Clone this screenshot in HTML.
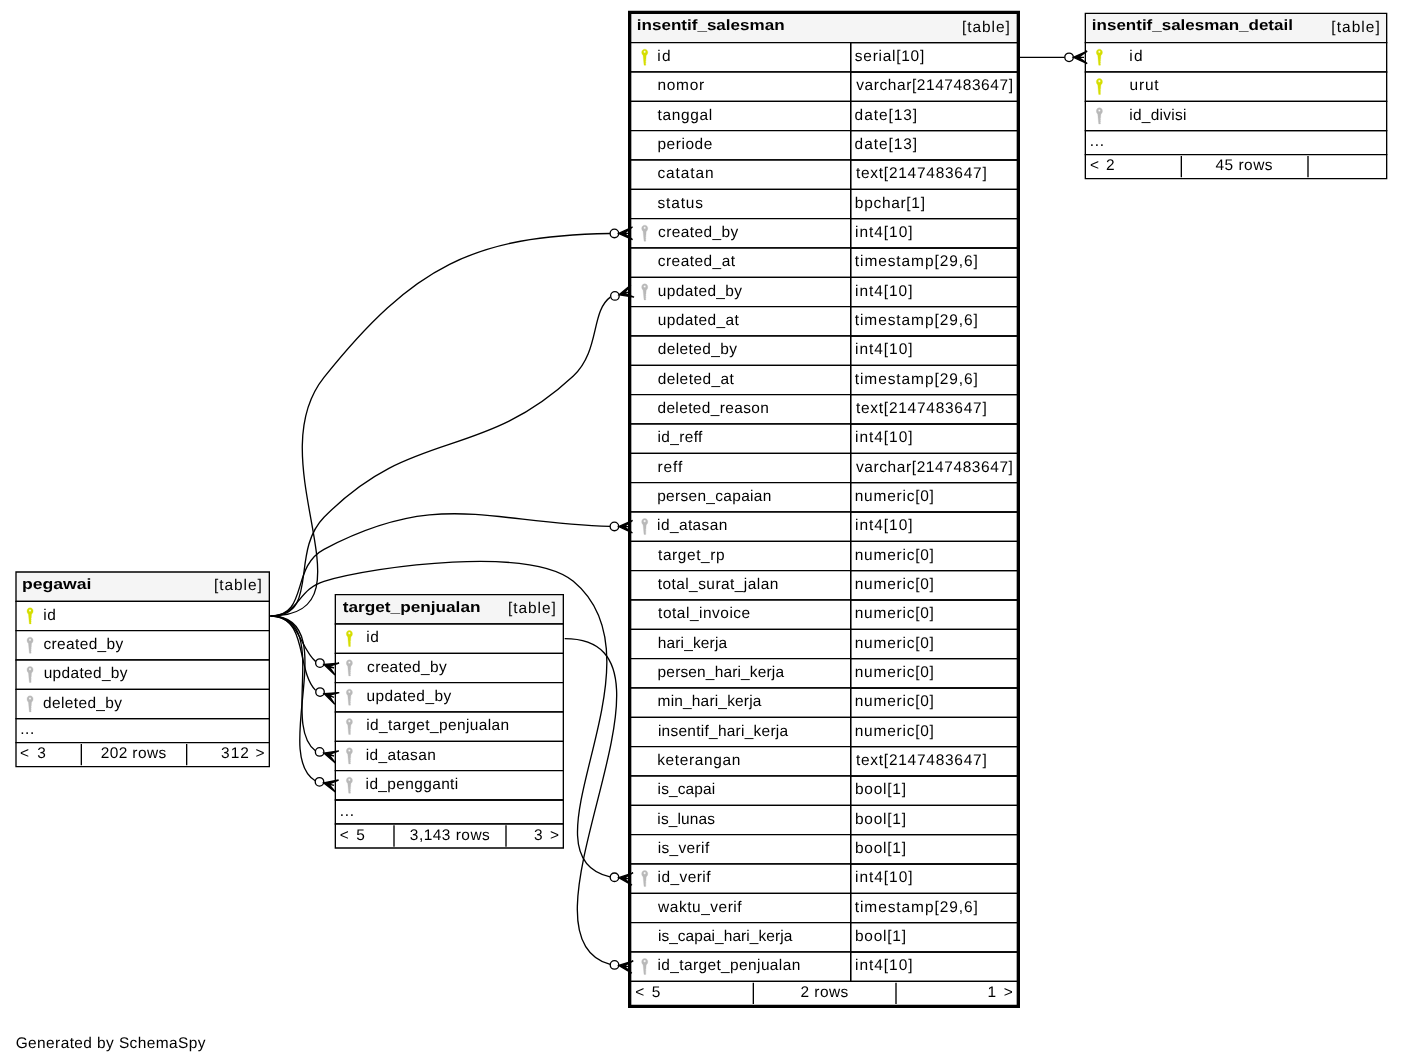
<!DOCTYPE html>
<html><head><meta charset="utf-8"><title>insentif_salesman</title>
<style>
html,body{margin:0;padding:0;background:#fff}
body{width:1403px;height:1063px;overflow:hidden}
svg{display:block;will-change:transform}
text{font-family:"Liberation Sans",sans-serif;font-size:11.6px;fill:#000;stroke:none;white-space:pre}
text.b{font-weight:bold;font-size:11.2px}
polygon,path,ellipse{fill:none;stroke:#000}
.h{fill:#f5f5f5;stroke:none}
.w{fill:#fff;stroke:none}
.a{fill:#000}
.pk{fill:#d5de00;stroke:#d5de00}
#k path{fill:inherit;stroke:inherit;stroke-width:.3;stroke-linejoin:round}
.fk{fill:#b9b9b9;stroke:#b9b9b9}
</style></head><body>
<svg width="1403" height="1063" viewBox="0 0 1052.25 797.25" text-rendering="geometricPrecision">
<defs><g id="k" transform="scale(.75)"><path fill-rule="evenodd" d="M7.4,-0.15 C9.3,-0.15 10.45,1.2 10.45,3 C10.45,4.4 9.9,5.3 9,6 L8.8,6.9 L8.6,10.2 L8.2,10.6 L8.55,11 L8.5,12 L8.15,12.4 L8.5,12.8 L8.45,13.9 L8.1,14.3 L8.45,14.7 L8.4,15.9 L6.75,15.9 L6.55,14.5 L5.85,6.9 L5.7,6 C4.9,5.3 4.35,4.4 4.35,3 C4.35,1.2 5.5,-0.15 7.4,-0.15 Z M7.35,1.45 C6.75,1.45 6.3,1.9 6.3,2.5 C6.3,3.1 6.75,3.55 7.35,3.55 C7.95,3.55 8.4,3.1 8.4,2.5 C8.4,1.9 7.95,1.45 7.35,1.45 Z"/></g></defs>
<g transform="translate(4 793)">
<text x="7.73" y="-7.2" lengthAdjust="spacing" textLength="142.37">Generated by SchemaSpy</text>
<polygon points="469,-761 469,-783 759,-783 759,-761 469,-761" class="h"/>
<polygon points="469,-761 469,-783 759,-783 759,-761 469,-761"/>
<text class="b" x="473.67" y="-770.2" lengthAdjust="spacingAndGlyphs" textLength="110.77">insentif_salesman</text>
<text x="717.44" y="-769.2" lengthAdjust="spacing" textLength="35.93">[table]</text>
<polygon points="469,-739 469,-761 634,-761 634,-739 469,-739" class="w"/>
<polygon points="469,-739 469,-761 634,-761 634,-739 469,-739"/>
<use href="#k" class="pk" x="474" y="-756"/>
<text x="488.95" y="-747.2" lengthAdjust="spacing" textLength="9.92">id</text>
<polygon points="634,-739 634,-761 759,-761 759,-739 634,-739"/>
<text x="637.15" y="-747.2" lengthAdjust="spacing" textLength="52.03">serial[10]</text>
<polygon points="469,-717 469,-739 634,-739 634,-717 469,-717" class="w"/>
<polygon points="469,-717 469,-739 634,-739 634,-717 469,-717"/>
<text x="489.11" y="-725.2" lengthAdjust="spacing" textLength="34.98">nomor</text>
<polygon points="634,-717 634,-739 759,-739 759,-717 634,-717"/>
<text x="638.16" y="-725.2" lengthAdjust="spacing" textLength="117.55">varchar[2147483647]</text>
<polygon points="469,-695 469,-717 634,-717 634,-695 469,-695" class="w"/>
<polygon points="469,-695 469,-717 634,-717 634,-695 469,-695"/>
<text x="489.17" y="-703.2" lengthAdjust="spacing" textLength="40.99">tanggal</text>
<polygon points="634,-695 634,-717 759,-717 759,-695 634,-695"/>
<text x="636.96" y="-703.2" lengthAdjust="spacing" textLength="46.91">date[13]</text>
<polygon points="469,-673 469,-695 634,-695 634,-673 469,-673" class="w"/>
<polygon points="469,-673 469,-695 634,-695 634,-673 469,-673"/>
<text x="489.1" y="-681.2" lengthAdjust="spacing" textLength="41.17">periode</text>
<polygon points="634,-673 634,-695 759,-695 759,-673 634,-673"/>
<text x="636.96" y="-681.2" lengthAdjust="spacing" textLength="46.92">date[13]</text>
<polygon points="469,-651 469,-673 634,-673 634,-651 469,-651" class="w"/>
<polygon points="469,-651 469,-673 634,-673 634,-651 469,-651"/>
<text x="489.1" y="-659.2" lengthAdjust="spacing" textLength="42.08">catatan</text>
<polygon points="634,-651 634,-673 759,-673 759,-651 634,-651"/>
<text x="637.92" y="-659.2" lengthAdjust="spacing" textLength="98.13">text[2147483647]</text>
<polygon points="469,-629 469,-651 634,-651 634,-629 469,-629" class="w"/>
<polygon points="469,-629 469,-651 634,-651 634,-629 469,-629"/>
<text x="489.18" y="-637.2" lengthAdjust="spacing" textLength="34.01">status</text>
<polygon points="634,-629 634,-651 759,-651 759,-629 634,-629"/>
<text x="637.14" y="-637.2" lengthAdjust="spacing" textLength="52.6">bpchar[1]</text>
<polygon points="469,-607 469,-629 634,-629 634,-607 469,-607" class="w"/>
<polygon points="469,-607 469,-629 634,-629 634,-607 469,-607"/>
<use href="#k" class="fk" x="474" y="-624"/>
<text x="489.53" y="-615.2" lengthAdjust="spacing" textLength="60.2">created_by</text>
<polygon points="634,-607 634,-629 759,-629 759,-607 634,-607"/>
<text x="637.25" y="-615.2" lengthAdjust="spacing" textLength="43.14">int4[10]</text>
<polygon points="469,-585 469,-607 634,-607 634,-585 469,-585" class="w"/>
<polygon points="469,-585 469,-607 634,-607 634,-585 469,-585"/>
<text x="489.36" y="-593.2" lengthAdjust="spacing" textLength="57.89">created_at</text>
<polygon points="634,-585 634,-607 759,-607 759,-585 634,-585"/>
<text x="637.1" y="-593.2" lengthAdjust="spacing" textLength="92.24">timestamp[29,6]</text>
<polygon points="469,-563 469,-585 634,-585 634,-563 469,-563" class="w"/>
<polygon points="469,-563 469,-585 634,-585 634,-563 469,-563"/>
<use href="#k" class="fk" x="474" y="-580"/>
<text x="489.29" y="-571.2" lengthAdjust="spacing" textLength="63.27">updated_by</text>
<polygon points="634,-563 634,-585 759,-585 759,-563 634,-563"/>
<text x="637.25" y="-571.2" lengthAdjust="spacing" textLength="43.1">int4[10]</text>
<polygon points="469,-541 469,-563 634,-563 634,-541 469,-541" class="w"/>
<polygon points="469,-541 469,-563 634,-563 634,-541 469,-541"/>
<text x="489.29" y="-549.2" lengthAdjust="spacing" textLength="60.85">updated_at</text>
<polygon points="634,-541 634,-563 759,-563 759,-541 634,-541"/>
<text x="637.09" y="-549.2" lengthAdjust="spacing" textLength="92.26">timestamp[29,6]</text>
<polygon points="469,-519 469,-541 634,-541 634,-519 469,-519" class="w"/>
<polygon points="469,-519 469,-541 634,-541 634,-519 469,-519"/>
<text x="489.28" y="-527.2" lengthAdjust="spacing" textLength="59.51">deleted_by</text>
<polygon points="634,-519 634,-541 759,-541 759,-519 634,-519"/>
<text x="637.26" y="-527.2" lengthAdjust="spacing" textLength="43.12">int4[10]</text>
<polygon points="469,-497 469,-519 634,-519 634,-497 469,-497" class="w"/>
<polygon points="469,-497 469,-519 634,-519 634,-497 469,-497"/>
<text x="489.25" y="-505.2" lengthAdjust="spacing" textLength="57.14">deleted_at</text>
<polygon points="634,-497 634,-519 759,-519 759,-497 634,-497"/>
<text x="637.09" y="-505.2" lengthAdjust="spacing" textLength="92.23">timestamp[29,6]</text>
<polygon points="469,-475 469,-497 634,-497 634,-475 469,-475" class="w"/>
<polygon points="469,-475 469,-497 634,-497 634,-475 469,-475"/>
<text x="489.06" y="-483.2" lengthAdjust="spacing" textLength="83.64">deleted_reason</text>
<polygon points="634,-475 634,-497 759,-497 759,-475 634,-475"/>
<text x="637.92" y="-483.2" lengthAdjust="spacing" textLength="98.12">text[2147483647]</text>
<polygon points="469,-453 469,-475 634,-475 634,-453 469,-453" class="w"/>
<polygon points="469,-453 469,-475 634,-475 634,-453 469,-453"/>
<text x="489.18" y="-461.2" lengthAdjust="spacing" textLength="33.62">id_reff</text>
<polygon points="634,-453 634,-475 759,-475 759,-453 634,-453"/>
<text x="637.26" y="-461.2" lengthAdjust="spacing" textLength="43.12">int4[10]</text>
<polygon points="469,-431 469,-453 634,-453 634,-431 469,-431" class="w"/>
<polygon points="469,-431 469,-453 634,-453 634,-431 469,-431"/>
<text x="489.1" y="-439.2" lengthAdjust="spacing" textLength="18.7">reff</text>
<polygon points="634,-431 634,-453 759,-453 759,-431 634,-431"/>
<text x="638.01" y="-439.2" lengthAdjust="spacing" textLength="117.69">varchar[2147483647]</text>
<polygon points="469,-409 469,-431 634,-431 634,-409 469,-409" class="w"/>
<polygon points="469,-409 469,-431 634,-431 634,-409 469,-409"/>
<text x="488.91" y="-417.2" lengthAdjust="spacing" textLength="85.57">persen_capaian</text>
<polygon points="634,-409 634,-431 759,-431 759,-409 634,-409"/>
<text x="637.06" y="-417.2" lengthAdjust="spacing" textLength="59.38">numeric[0]</text>
<polygon points="469,-387 469,-409 634,-409 634,-387 469,-387" class="w"/>
<polygon points="469,-387 469,-409 634,-409 634,-387 469,-387"/>
<use href="#k" class="fk" x="474" y="-404"/>
<text x="488.79" y="-395.2" lengthAdjust="spacing" textLength="52.69">id_atasan</text>
<polygon points="634,-387 634,-409 759,-409 759,-387 634,-387"/>
<text x="637.26" y="-395.2" lengthAdjust="spacing" textLength="43.12">int4[10]</text>
<polygon points="469,-365 469,-387 634,-387 634,-365 469,-365" class="w"/>
<polygon points="469,-365 469,-387 634,-387 634,-365 469,-365"/>
<text x="489.54" y="-373.2" lengthAdjust="spacing" textLength="49.94">target_rp</text>
<polygon points="634,-365 634,-387 759,-387 759,-365 634,-365"/>
<text x="637.06" y="-373.2" lengthAdjust="spacing" textLength="59.39">numeric[0]</text>
<polygon points="469,-343 469,-365 634,-365 634,-343 469,-343" class="w"/>
<polygon points="469,-343 469,-365 634,-365 634,-343 469,-343"/>
<text x="489.22" y="-351.2" lengthAdjust="spacing" textLength="90.5">total_surat_jalan</text>
<polygon points="634,-343 634,-365 759,-365 759,-343 634,-343"/>
<text x="637.06" y="-351.2" lengthAdjust="spacing" textLength="59.38">numeric[0]</text>
<polygon points="469,-321 469,-343 634,-343 634,-321 469,-321" class="w"/>
<polygon points="469,-321 469,-343 634,-343 634,-321 469,-321"/>
<text x="489.55" y="-329.2" lengthAdjust="spacing" textLength="69.11">total_invoice</text>
<polygon points="634,-321 634,-343 759,-343 759,-321 634,-321"/>
<text x="637.06" y="-329.2" lengthAdjust="spacing" textLength="59.39">numeric[0]</text>
<polygon points="469,-299 469,-321 634,-321 634,-299 469,-299" class="w"/>
<polygon points="469,-299 469,-321 634,-321 634,-299 469,-299"/>
<text x="489.24" y="-307.2" lengthAdjust="spacing" textLength="52.09">hari_kerja</text>
<polygon points="634,-299 634,-321 759,-321 759,-299 634,-299"/>
<text x="637.06" y="-307.2" lengthAdjust="spacing" textLength="59.39">numeric[0]</text>
<polygon points="469,-277 469,-299 634,-299 634,-277 469,-277" class="w"/>
<polygon points="469,-277 469,-299 634,-299 634,-277 469,-277"/>
<text x="489.21" y="-285.2" lengthAdjust="spacing" textLength="94.79">persen_hari_kerja</text>
<polygon points="634,-277 634,-299 759,-299 759,-277 634,-277"/>
<text x="637.06" y="-285.2" lengthAdjust="spacing" textLength="59.38">numeric[0]</text>
<polygon points="469,-255 469,-277 634,-277 634,-255 469,-255" class="w"/>
<polygon points="469,-255 469,-277 634,-277 634,-255 469,-255"/>
<text x="489.17" y="-263.2" lengthAdjust="spacing" textLength="77.88">min_hari_kerja</text>
<polygon points="634,-255 634,-277 759,-277 759,-255 634,-255"/>
<text x="637.06" y="-263.2" lengthAdjust="spacing" textLength="59.39">numeric[0]</text>
<polygon points="469,-233 469,-255 634,-255 634,-233 469,-233" class="w"/>
<polygon points="469,-233 469,-255 634,-255 634,-233 469,-233"/>
<text x="489.44" y="-241.2" lengthAdjust="spacing" textLength="97.69">insentif_hari_kerja</text>
<polygon points="634,-233 634,-255 759,-255 759,-233 634,-233"/>
<text x="637.06" y="-241.2" lengthAdjust="spacing" textLength="59.39">numeric[0]</text>
<polygon points="469,-211 469,-233 634,-233 634,-211 469,-211" class="w"/>
<polygon points="469,-211 469,-233 634,-233 634,-211 469,-211"/>
<text x="488.85" y="-219.2" lengthAdjust="spacing" textLength="62.47">keterangan</text>
<polygon points="634,-211 634,-233 759,-233 759,-211 634,-211"/>
<text x="637.92" y="-219.2" lengthAdjust="spacing" textLength="98.12">text[2147483647]</text>
<polygon points="469,-189 469,-211 634,-211 634,-189 469,-189" class="w"/>
<polygon points="469,-189 469,-211 634,-211 634,-189 469,-189"/>
<text x="489.18" y="-197.2" lengthAdjust="spacing" textLength="43.27">is_capai</text>
<polygon points="634,-189 634,-211 759,-211 759,-189 634,-189"/>
<text x="637.2" y="-197.2" lengthAdjust="spacing" textLength="38.33">bool[1]</text>
<polygon points="469,-167 469,-189 634,-189 634,-167 469,-167" class="w"/>
<polygon points="469,-167 469,-189 634,-189 634,-167 469,-167"/>
<text x="489.01" y="-175.2" lengthAdjust="spacing" textLength="43.2">is_lunas</text>
<polygon points="634,-167 634,-189 759,-189 759,-167 634,-167"/>
<text x="637.2" y="-175.2" lengthAdjust="spacing" textLength="38.32">bool[1]</text>
<polygon points="469,-145 469,-167 634,-167 634,-145 469,-145" class="w"/>
<polygon points="469,-145 469,-167 634,-167 634,-145 469,-145"/>
<text x="489.24" y="-153.2" lengthAdjust="spacing" textLength="38.66">is_verif</text>
<polygon points="634,-145 634,-167 759,-167 759,-145 634,-145"/>
<text x="637.18" y="-153.2" lengthAdjust="spacing" textLength="38.32">bool[1]</text>
<polygon points="469,-123 469,-145 634,-145 634,-123 469,-123" class="w"/>
<polygon points="469,-123 469,-145 634,-145 634,-123 469,-123"/>
<use href="#k" class="fk" x="474" y="-140"/>
<text x="489.19" y="-131.2" lengthAdjust="spacing" textLength="39.68">id_verif</text>
<polygon points="634,-123 634,-145 759,-145 759,-123 634,-123"/>
<text x="637.26" y="-131.2" lengthAdjust="spacing" textLength="43.12">int4[10]</text>
<polygon points="469,-101 469,-123 634,-123 634,-101 469,-101" class="w"/>
<polygon points="469,-101 469,-123 634,-123 634,-101 469,-101"/>
<text x="489.53" y="-109.2" lengthAdjust="spacing" textLength="62.71">waktu_verif</text>
<polygon points="634,-101 634,-123 759,-123 759,-101 634,-101"/>
<text x="637.09" y="-109.2" lengthAdjust="spacing" textLength="92.23">timestamp[29,6]</text>
<polygon points="469,-79 469,-101 634,-101 634,-79 469,-79" class="w"/>
<polygon points="469,-79 469,-101 634,-101 634,-79 469,-79"/>
<text x="489.41" y="-87.2" lengthAdjust="spacing" textLength="100.81">is_capai_hari_kerja</text>
<polygon points="634,-79 634,-101 759,-101 759,-79 634,-79"/>
<text x="637.18" y="-87.2" lengthAdjust="spacing" textLength="38.32">bool[1]</text>
<polygon points="469,-57 469,-79 634,-79 634,-57 469,-57" class="w"/>
<polygon points="469,-57 469,-79 634,-79 634,-57 469,-57"/>
<use href="#k" class="fk" x="474" y="-74"/>
<text x="489.08" y="-65.2" lengthAdjust="spacing" textLength="107.11">id_target_penjualan</text>
<polygon points="634,-57 634,-79 759,-79 759,-57 634,-57"/>
<text x="637.26" y="-65.2" lengthAdjust="spacing" textLength="43.12">int4[10]</text>
<polygon points="469,-39 469,-57 759,-57 759,-39 469,-39" class="w"/>
<polygon points="469,-39 469,-57 759,-57 759,-39 469,-39"/>
<text x="472.42" y="-45.2" lengthAdjust="spacing" textLength="18.86">&lt; 5</text>
<text x="596.45" y="-45.2" lengthAdjust="spacing" textLength="35.73">2 rows</text>
<text x="736.6" y="-45.2" lengthAdjust="spacing" textLength="19.03">1 &gt;</text>
<polygon points="561,-40 561,-56 561,-56 561,-40 561,-40" class="a"/>
<polygon points="668,-40 668,-56 668,-56 668,-40 668,-40" class="a"/>
<polygon points="468,-38 468,-784 760,-784 760,-38 468,-38" stroke-width="2"/>
<polygon points="8,-218 8,-364 198,-364 198,-218 8,-218" class="w"/>
<polygon points="8,-342 8,-364 198,-364 198,-342 8,-342" class="h"/>
<polygon points="8,-342 8,-364 198,-364 198,-342 8,-342"/>
<text class="b" x="12.48" y="-351.2" lengthAdjust="spacingAndGlyphs" textLength="52.09">pegawai</text>
<text x="156.43" y="-350.2" lengthAdjust="spacing" textLength="35.97">[table]</text>
<polygon points="8,-320 8,-342 198,-342 198,-320 8,-320" class="w"/>
<polygon points="8,-320 8,-342 198,-342 198,-320 8,-320"/>
<use href="#k" class="pk" x="13" y="-337"/>
<text x="28.45" y="-328.2" lengthAdjust="spacing" textLength="9.48">id</text>
<polygon points="8,-298 8,-320 198,-320 198,-298 8,-298" class="w"/>
<polygon points="8,-298 8,-320 198,-320 198,-298 8,-298"/>
<use href="#k" class="fk" x="13" y="-315"/>
<text x="28.58" y="-306.2" lengthAdjust="spacing" textLength="59.89">created_by</text>
<polygon points="8,-276 8,-298 198,-298 198,-276 8,-276" class="w"/>
<polygon points="8,-276 8,-298 198,-298 198,-276 8,-276"/>
<use href="#k" class="fk" x="13" y="-293"/>
<text x="28.73" y="-284.2" lengthAdjust="spacing" textLength="62.91">updated_by</text>
<polygon points="8,-254 8,-276 198,-276 198,-254 8,-254" class="w"/>
<polygon points="8,-254 8,-276 198,-276 198,-254 8,-254"/>
<use href="#k" class="fk" x="13" y="-271"/>
<text x="28.33" y="-262.2" lengthAdjust="spacing" textLength="59.18">deleted_by</text>
<polygon points="8,-236 8,-254 198,-254 198,-236 8,-236"/>
<text x="11.12" y="-242.2" lengthAdjust="spacing" textLength="10.62">...</text>
<polygon points="8,-218 8,-236 198,-236 198,-218 8,-218" class="w"/>
<polygon points="8,-218 8,-236 198,-236 198,-218 8,-218"/>
<text x="11.06" y="-224.2" lengthAdjust="spacing" textLength="19.3">&lt; 3</text>
<text x="71.49" y="-224.2" lengthAdjust="spacing" textLength="49.15">202 rows</text>
<text x="161.78" y="-224.2" lengthAdjust="spacing" textLength="32.54">312 &gt;</text>
<polygon points="57,-219 57,-235 57,-235 57,-219 57,-219" class="a"/>
<polygon points="136,-219 136,-235 136,-235 136,-219 136,-219" class="a"/>
<path d="M453.54,-617.88C351.37,-616.1 306.23,-593.99 239,-510 188.06,-446.36 280.52,-331 199,-331"/>
<polygon points="460,-617.93 470.36,-622.7 464,-617.97 468,-618 468,-618 468,-618 464,-617.97 470.44,-613.34 460,-617.93 460,-617.93" class="a"/>
<ellipse cx="456.8" cy="-617.91" rx="3.2" ry="3.2"/>
<path d="M453.5,-398.21C362.23,-400.8 324.88,-426.26 239,-381 213.82,-367.73 227.46,-331 199,-331"/>
<polygon points="460,-398.11 470.46,-402.65 464,-398.06 468,-398 468,-398 468,-398 464,-398.06 470.33,-393.29 460,-398.11 460,-398.11" class="a"/>
<ellipse cx="456.8" cy="-398.16" rx="3.2" ry="3.2"/>
<path d="M453.51,-135.38C381.43,-151.07 499.39,-296.14 426,-357 394.01,-383.53 278.84,-368.81 239,-357 218.67,-350.97 220.2,-331 199,-331"/>
<polygon points="460.04,-134.76 470.83,-138.43 464.02,-134.38 468,-134 468,-134 468,-134 464.02,-134.38 469.95,-129.12 460.04,-134.76 460.04,-134.76" class="a"/>
<ellipse cx="456.85" cy="-135.06" rx="3.2" ry="3.2"/>
<path d="M453.74,-570.15C439.02,-559.57 446.02,-529.62 426,-511 356.05,-445.93 305.87,-473.23 239,-405 212.83,-378.3 236.39,-331 199,-331"/>
<polygon points="460.28,-571.91 469.09,-579.15 464.14,-572.96 468,-574 468,-574 468,-574 464.14,-572.96 471.54,-570.1 460.28,-571.91 460.28,-571.91" class="a"/>
<ellipse cx="457.19" cy="-571.08" rx="3.2" ry="3.2"/>
<polygon points="247,-157 247,-347 418,-347 418,-157 247,-157" class="w"/>
<polygon points="247.5,-325 247.5,-347 418.5,-347 418.5,-325 247.5,-325" class="h"/>
<polygon points="247.5,-325 247.5,-347 418.5,-347 418.5,-325 247.5,-325"/>
<text class="b" x="253.09" y="-334.2" lengthAdjust="spacingAndGlyphs" textLength="103.28">target_penjualan</text>
<text x="376.94" y="-333.2" lengthAdjust="spacing" textLength="35.92">[table]</text>
<polygon points="247.5,-303 247.5,-325 418.5,-325 418.5,-303 247.5,-303" class="w"/>
<polygon points="247.5,-303 247.5,-325 418.5,-325 418.5,-303 247.5,-303"/>
<use href="#k" class="pk" x="252.5" y="-320"/>
<text x="270.6" y="-311.2" lengthAdjust="spacing" textLength="9.62">id</text>
<polygon points="247.5,-281 247.5,-303 418.5,-303 418.5,-281 247.5,-281" class="w"/>
<polygon points="247.5,-281 247.5,-303 418.5,-303 418.5,-281 247.5,-281"/>
<use href="#k" class="fk" x="252.5" y="-298"/>
<text x="271.34" y="-289.2" lengthAdjust="spacing" textLength="59.62">created_by</text>
<polygon points="247.5,-259 247.5,-281 418.5,-281 418.5,-259 247.5,-259" class="w"/>
<polygon points="247.5,-259 247.5,-281 418.5,-281 418.5,-259 247.5,-259"/>
<use href="#k" class="fk" x="252.5" y="-276"/>
<text x="270.83" y="-267.2" lengthAdjust="spacing" textLength="63.57">updated_by</text>
<polygon points="247.5,-237 247.5,-259 418.5,-259 418.5,-237 247.5,-237" class="w"/>
<polygon points="247.5,-237 247.5,-259 418.5,-259 418.5,-237 247.5,-237"/>
<use href="#k" class="fk" x="252.5" y="-254"/>
<text x="270.6" y="-245.2" lengthAdjust="spacing" textLength="107.32">id_target_penjualan</text>
<polygon points="247.5,-215 247.5,-237 418.5,-237 418.5,-215 247.5,-215" class="w"/>
<polygon points="247.5,-215 247.5,-237 418.5,-237 418.5,-215 247.5,-215"/>
<use href="#k" class="fk" x="252.5" y="-232"/>
<text x="270.23" y="-223.2" lengthAdjust="spacing" textLength="52.62">id_atasan</text>
<polygon points="247.5,-193 247.5,-215 418.5,-215 418.5,-193 247.5,-193" class="w"/>
<polygon points="247.5,-193 247.5,-215 418.5,-215 418.5,-193 247.5,-193"/>
<use href="#k" class="fk" x="252.5" y="-210"/>
<text x="270.19" y="-201.2" lengthAdjust="spacing" textLength="69.48">id_pengganti</text>
<polygon points="247.5,-175 247.5,-193 418.5,-193 418.5,-175 247.5,-175"/>
<text x="250.81" y="-181.2" lengthAdjust="spacing" textLength="10.7">...</text>
<polygon points="247.5,-157 247.5,-175 418.5,-175 418.5,-157 247.5,-157" class="w"/>
<polygon points="247.5,-157 247.5,-175 418.5,-175 418.5,-157 247.5,-157"/>
<text x="250.78" y="-163.2" lengthAdjust="spacing" textLength="18.86">&lt; 5</text>
<text x="303.4" y="-163.2" lengthAdjust="spacing" textLength="59.95">3,143 rows</text>
<text x="396.57" y="-163.2" lengthAdjust="spacing" textLength="18.73">3 &gt;</text>
<polygon points="291.5,-158 291.5,-174 291.5,-174 291.5,-158 291.5,-158" class="a"/>
<polygon points="375.5,-158 375.5,-174 375.5,-174 375.5,-158 375.5,-158" class="a"/>
<path d="M453.65,-69.7C372.91,-91.44 525.5,-314 419.5,-314"/>
<polygon points="460.06,-68.94 470.93,-72.36 464.03,-68.47 468,-68 468,-68 468,-68 464.03,-68.47 469.84,-63.08 460.06,-68.94 460.06,-68.94" class="a"/>
<ellipse cx="456.88" cy="-69.32" rx="3.2" ry="3.2"/>
<path d="M232.8,-296.78C220.66,-307.2 220.34,-331 199,-331"/>
<polygon points="238.95,-294.64 250.31,-295.63 242.72,-293.32 246.5,-292 246.5,-292 246.5,-292 242.72,-293.32 247.22,-286.79 238.95,-294.64 238.95,-294.64" class="a"/>
<ellipse cx="235.93" cy="-295.69" rx="3.2" ry="3.2"/>
<path d="M232.53,-229.99C206.7,-249.17 244.22,-331 199,-331"/>
<polygon points="238.81,-228.2 250.09,-229.84 242.65,-227.1 246.5,-226 246.5,-226 246.5,-226 242.65,-227.1 247.52,-220.84 238.81,-228.2 238.81,-228.2" class="a"/>
<ellipse cx="235.73" cy="-229.07" rx="3.2" ry="3.2"/>
<path d="M232.41,-207.4C199.23,-227.59 253.38,-331 199,-331"/>
<polygon points="238.72,-205.88 249.93,-207.99 242.61,-204.94 246.5,-204 246.5,-204 246.5,-204 242.61,-204.94 247.74,-198.89 238.72,-205.88 238.72,-205.88" class="a"/>
<ellipse cx="235.61" cy="-206.63" rx="3.2" ry="3.2"/>
<path d="M232.72,-275.2C217.97,-289.95 227.19,-331 199,-331"/>
<polygon points="239.02,-272.82 250.4,-273.54 242.76,-271.41 246.5,-270 246.5,-270 246.5,-270 242.76,-271.41 247.09,-264.77 239.02,-272.82 239.02,-272.82" class="a"/>
<ellipse cx="236.02" cy="-273.95" rx="3.2" ry="3.2"/>
<polygon points="810,-659 810,-783 1036,-783 1036,-659 810,-659" class="w"/>
<polygon points="810,-761 810,-783 1036,-783 1036,-761 810,-761" class="h"/>
<polygon points="810,-761 810,-783 1036,-783 1036,-761 810,-761"/>
<text class="b" x="814.91" y="-770.2" lengthAdjust="spacingAndGlyphs" textLength="150.77">insentif_salesman_detail</text>
<text x="994.48" y="-769.2" lengthAdjust="spacing" textLength="36.29">[table]</text>
<polygon points="810,-739 810,-761 1036,-761 1036,-739 810,-739" class="w"/>
<polygon points="810,-739 810,-761 1036,-761 1036,-739 810,-739"/>
<use href="#k" class="pk" x="815" y="-756"/>
<text x="842.95" y="-747.2" lengthAdjust="spacing" textLength="9.92">id</text>
<polygon points="810,-717 810,-739 1036,-739 1036,-717 810,-717" class="w"/>
<polygon points="810,-717 810,-739 1036,-739 1036,-717 810,-717"/>
<use href="#k" class="pk" x="815" y="-734"/>
<text x="843.15" y="-725.2" lengthAdjust="spacing" textLength="21.86">urut</text>
<polygon points="810,-695 810,-717 1036,-717 1036,-695 810,-695" class="w"/>
<polygon points="810,-695 810,-717 1036,-717 1036,-695 810,-695"/>
<use href="#k" class="fk" x="815" y="-712"/>
<text x="842.94" y="-703.2" lengthAdjust="spacing" textLength="42.91">id_divisi</text>
<polygon points="810,-677 810,-695 1036,-695 1036,-677 810,-677"/>
<text x="813.31" y="-683.2" lengthAdjust="spacing" textLength="10.7">...</text>
<polygon points="810,-659 810,-677 1036,-677 1036,-659 810,-659" class="w"/>
<polygon points="810,-659 810,-677 1036,-677 1036,-659 810,-659"/>
<text x="813.41" y="-665.2" lengthAdjust="spacing" textLength="18.54">&lt; 2</text>
<text x="907.55" y="-665.2" lengthAdjust="spacing" textLength="42.86">45 rows</text>
<polygon points="882,-660 882,-676 882,-676 882,-660 882,-660" class="a"/>
<polygon points="977,-660 977,-676 977,-676 977,-660 977,-660" class="a"/>
<path d="M794.49,-750C783.18,-750 775.99,-750 760,-750"/>
<polygon points="801,-750 811.4,-754.68 805,-750 809,-750 809,-750 809,-750 805,-750 811.4,-745.32 801,-750 801,-750" class="a"/>
<ellipse cx="797.8" cy="-750" rx="3.2" ry="3.2"/>
</g>
</svg>
</body></html>
